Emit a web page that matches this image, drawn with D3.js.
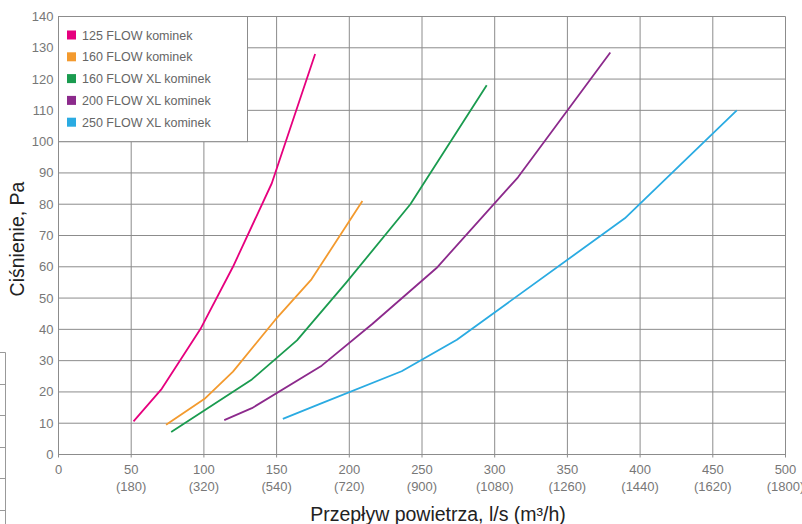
<!DOCTYPE html>
<html>
<head>
<meta charset="utf-8">
<script src="https://cdn.jsdelivr.net/npm/d3@7"></script>
<style>
  html, body { margin: 0; padding: 0; background: #fff; }
  svg { display: block; font-family: "Liberation Sans", Arial, sans-serif; }
</style>
</head>
<body>
<svg id="chart" width="802" height="524"></svg>
<script>
// ---- data ----
const seriesNames = ["125 FLOW kominek", "160 FLOW kominek", "160 FLOW XL kominek", "200 FLOW XL kominek", "250 FLOW XL kominek"];
const seriesColors = ["#e6007e", "#f39a2e", "#1a9b4f", "#8c2a8c", "#2aabe2"];
const flow125 = [[51.6, 10.6], [71, 21], [97.5, 40], [120, 60], [146.7, 86.7], [176.5, 128]];
const flow160 = [[74, 9.5], [101, 18], [120, 26.5], [149, 43], [174, 56], [209, 81]];
const flow160xl = [[77.5, 7.2], [133, 24], [164, 36.5], [198, 55], [242, 80], [294.5, 118]];
const flow200xl = [[114, 11], [133, 14.8], [181, 28.4], [216, 41.8], [260, 59.6], [316, 88.6], [379.5, 128.5]];
const flow250xl = [[154.3, 11.4], [179, 16], [236, 26.6], [274, 36.7], [389.5, 75.5], [466.5, 110]];
const allSeries = [flow125, flow160, flow160xl, flow200xl, flow250xl];
const xTicks = [0, 50, 100, 150, 200, 250, 300, 350, 400, 450, 500];
const xTicksM3h = ["", "(180)", "(320)", "(540)", "(720)", "(900)", "(1080)", "(1260)", "(1440)", "(1620)", "(1800)"];
const yTicks = [0, 10, 20, 30, 40, 50, 60, 70, 80, 90, 100, 110, 120, 130, 140];
const xTitle = "Przepływ powietrza, l/s (m³/h)";
const yTitle = "Ciśnienie, Pa";

// ---- drawing ----
const svg = d3.select("#chart");
const x = d3.scaleLinear().domain([0, 500]).range([58.5, 785.5]);
const y = d3.scaleLinear().domain([0, 140]).range([454.5, 16.5]);
const gridColor = "#8c8c8c";

// stray fragment of a neighbouring table at the left edge
const frag = svg.append("g").attr("stroke", "#999").attr("stroke-width", 1);
frag.append("line").attr("x1", 5.5).attr("x2", 5.5).attr("y1", 352.5).attr("y2", 524);
[352.5, 384.5, 415.5, 447.5, 478.5, 510.5].forEach(v =>
  frag.append("line").attr("x1", 0).attr("x2", 5.5).attr("y1", v).attr("y2", v));

// grid
const grid = svg.append("g");
grid.selectAll("line.h").data(yTicks).join("line")
  .attr("x1", x(0)).attr("x2", x(500))
  .attr("y1", d => y(d)).attr("y2", d => y(d))
  .attr("stroke", gridColor).attr("stroke-width", 1);
grid.selectAll("line.v").data(xTicks).join("line")
  .attr("x1", d => x(d)).attr("x2", d => x(d))
  .attr("y1", y(140)).attr("y2", y(0) + 3)
  .attr("stroke", gridColor).attr("stroke-width", 1);

// x axis labels
const xLab = svg.append("g").attr("fill", "#777").attr("font-size", 13).attr("text-anchor", "middle");
xTicks.forEach((t, i) => {
  const tx = xLab.append("text").attr("x", x(t)).attr("y", 474);
  tx.append("tspan").attr("x", x(t)).text(t);
  if (xTicksM3h[i]) tx.append("tspan").attr("x", x(t)).attr("dy", 17).text(xTicksM3h[i]);
});

// y axis labels
svg.append("g").attr("fill", "#777").attr("font-size", 13).attr("text-anchor", "end")
  .selectAll("text").data(yTicks).join("text")
  .attr("x", 53.5).attr("y", d => y(d) + 4.5).text(d => d);

// titles
svg.append("text").attr("x", 438).attr("y", 521).attr("text-anchor", "middle")
  .attr("font-size", 19.5).attr("fill", "#222").text(xTitle);
svg.append("text").attr("transform", "translate(24,239) rotate(-90)").attr("text-anchor", "middle")
  .attr("font-size", 19.5).attr("fill", "#222").text(yTitle);

// lines
const line = d3.line().x(d => x(d[0])).y(d => y(d[1]));
svg.append("g").selectAll("path").data(allSeries).join("path")
  .attr("d", line).attr("fill", "none")
  .attr("stroke", (d, i) => seriesColors[i]).attr("stroke-width", 1.8)
  .attr("stroke-linejoin", "round");

// legend
const lg = svg.append("g");
lg.append("rect").attr("x", x(0)).attr("y", y(140)).attr("width", 189).attr("height", y(100) - y(140))
  .attr("fill", "#fff").attr("stroke", gridColor).attr("stroke-width", 1);
seriesNames.forEach((n, i) => {
  const cy = 35 + i * 21.8;
  lg.append("rect").attr("x", 67).attr("y", cy - 4.5).attr("width", 9).attr("height", 9).attr("fill", seriesColors[i]);
  lg.append("text").attr("x", 82).attr("y", cy + 4.5).attr("font-size", 12.5).attr("fill", "#666").text(n);
});
</script>
</body>
</html>
